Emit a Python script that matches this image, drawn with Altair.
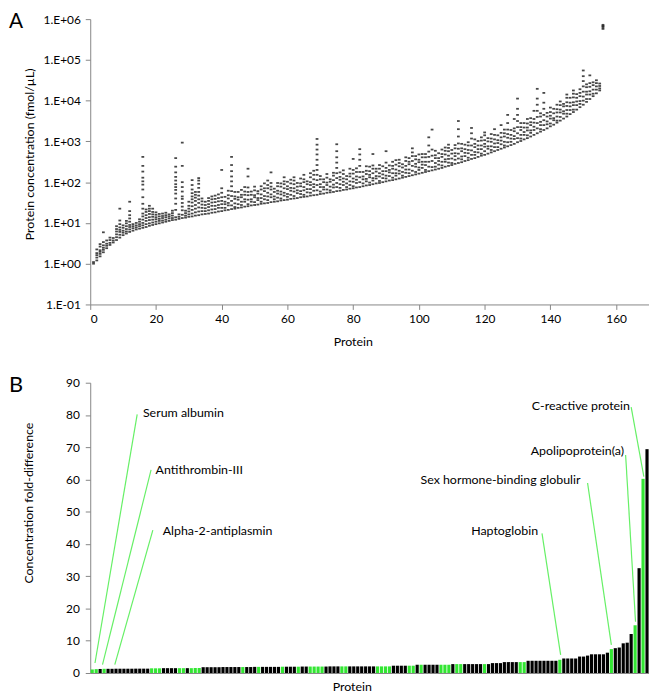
import altair as alt
import pandas as pd

# ---------------- Panel A: per-protein measurements ----------------
# lowest measured value of each protein (log10 fmol/uL), proteins 1..156
band_low = [
    0.00, 0.08, 0.18, 0.28, 0.38, 0.46, 0.52, 0.58, 0.64, 0.70,
    0.74, 0.78, 0.81, 0.84, 0.86, 0.88, 0.90, 0.93, 0.95, 0.97,
    0.99, 1.01, 1.03, 1.05, 1.07, 1.08, 1.10, 1.12, 1.13, 1.15,
    1.16, 1.18, 1.19, 1.21, 1.22, 1.23, 1.25, 1.26, 1.28, 1.29,
    1.31, 1.32, 1.34, 1.35, 1.37, 1.38, 1.40, 1.41, 1.43, 1.44,
    1.45, 1.47, 1.48, 1.49, 1.51, 1.52, 1.53, 1.55, 1.56, 1.57,
    1.59, 1.60, 1.61, 1.63, 1.64, 1.65, 1.67, 1.68, 1.69, 1.71,
    1.72, 1.74, 1.75, 1.76, 1.78, 1.79, 1.81, 1.82, 1.84, 1.85,
    1.87, 1.88, 1.90, 1.92, 1.93, 1.95, 1.97, 1.98, 2.00, 2.02,
    2.04, 2.05, 2.07, 2.09, 2.11, 2.13, 2.15, 2.17, 2.19, 2.21,
    2.23, 2.25, 2.27, 2.29, 2.31, 2.33, 2.35, 2.38, 2.40, 2.42,
    2.45, 2.47, 2.49, 2.52, 2.54, 2.57, 2.59, 2.62, 2.65, 2.67,
    2.70, 2.73, 2.76, 2.79, 2.82, 2.85, 2.88, 2.91, 2.94, 2.98,
    3.01, 3.05, 3.08, 3.12, 3.16, 3.20, 3.24, 3.28, 3.32, 3.37,
    3.41, 3.46, 3.51, 3.56, 3.61, 3.67, 3.72, 3.78, 3.84, 3.90,
    3.97, 4.04, 4.11, 4.18, 4.25, 5.76,
]
# the other measurements of each protein, as log10 distance above its lowest value
band_offsets = [
    [0, .04], [0, .07, .13, .18, .27], [0, .06, .11, .15, .24, .30], [0, .06, .11, .17, .25, .49], [0, .06, .11, .19],
    [0, .05, .12, .18], [0, .05, .11], [0, .07, .14, .21, .27, .34], [0, .07, .14, .19, .25, .33, .42, .71],
    [0, .06, .11, .18, .24], [0, .05, .11, .18, .25, .31], [0, .06, .12, .17, .25, .33, .41, .51, .74],
    [0, .06, .11, .16], [0, .05, .10, .16], [0, .06, .11, .17, .23],
    [0, .06, .12, .20, .28, .35, .47, .59, .75, .94, 1.06, 1.14, 1.23, 1.38, 1.52, 1.74],
    [0, .07, .15, .22, .29, .37, .43], [0, .06, .14, .21, .29, .36, .42, .49], [0, .06, .13, .20, .26, .32, .40],
    [0, .06, .12, .17, .23, .29], [0, .06, .11, .17, .23], [0, .05, .11, .16, .22], [0, .05, .11, .16, .22],
    [0, .06, .11, .16], [0, .05, .11, .17, .23],
    [0, .06, .24, .39, .52, .64, .73, .80, .87, .96, 1.05, 1.16, 1.30, 1.51], [0, .05, .11],
    [0, .08, .19, .28, .37, .47, .53, .65, .76, .88, 1.28, 1.85], [0, .05, .11, .17], [0, .06, .13, .20, .27, .37],
    [0, .07, .16, .25, .34, .42, .49, .57, .66, .77, .89], [0, .08, .17, .26, .36, .44, .51, .58],
    [0, .09, .19, .30, .39, .48, .57, .67, .77, .85, .91], [0, .08, .16, .24, .32, .39], [0, .07, .14, .22, .30],
    [0, .08, .16, .23, .31, .38], [0, .08, .17, .25, .33, .40], [0, .08, .16, .25, .33, .41], [0, .09, .16, .25, .33, .42],
    [0, .08, .17, .25, .34, .45, .56, 1.01],
    [0, .06, .15, .21, .33], [0, .11, .17, .28, .36, .47], [0, .09, .20, .32, .44, .56, .68, .80, .93, 1.08, 1.28],
    [0, .04, .13, .24, .30, .41], [0, .09, .20, .26, .39], [0, .06, .14, .25, .31, .43], [0, .12, .18, .29, .37, .48],
    [0, .05, .16, .27, .35, .46, .73, .92], [0, .09, .15, .26, .34], [0, .07, .19, .24, .36, .45],
    [0, .11, .16, .27, .33], [0, .05, .14, .23, .35, .43], [0, .10, .18, .30, .37, .49], [0, .07, .16, .25, .36, .44, .55],
    [0, .12, .19, .31, .38, .47, .73], [0, .06, .13, .24, .32], [0, .09, .19, .26, .37, .45], [0, .05, .15, .22, .34, .42],
    [0, .11, .18, .29, .39, .46, .56], [0, .07, .14, .26, .33, .44],
    [0, .10, .20, .27, .38, .47], [0, .06, .17, .25, .35, .44, .52], [0, .12, .19, .28, .37], [0, .08, .15, .27, .34, .46],
    [0, .05, .16, .24, .36, .43, .54], [0, .10, .18, .30, .37], [0, .07, .16, .26, .33, .45, .55],
    [0, .11, .20, .27, .39, .50, .60], [0, .11, .24, .36, .49, .61, .73, .86, .99, 1.11, 1.23, 1.37],
    [0, .06, .17, .24, .36, .44],
    [0, .10, .16, .28, .35], [0, .08, .19, .25, .37, .46], [0, .05, .14, .26, .32], [0, .11, .18, .29, .40, .47],
    [0, .10, .20, .32, .44, .57, .70, .83, .98, 1.15], [0, .07, .16, .27, .34, .45], [0, .12, .20, .28, .39, .48],
    [0, .06, .15, .25, .33], [0, .09, .18, .30, .37, .49], [0, .05, .16, .24, .36, .45, .72],
    [0, .11, .19, .27, .38, .47], [0, .12, .24, .37, .52, .67, .80, .93], [0, .07, .17, .24, .35],
    [0, .10, .16, .28, .36, .47], [0, .06, .19, .25, .34, .45], [0, .09, .15, .27, .38, .46, .74],
    [0, .12, .18, .29, .36], [0, .05, .16, .24, .35, .44], [0, .10, .19, .27, .39], [0, .07, .14, .25, .33, .46, .74],
    [0, .11, .20, .26, .37], [0, .06, .17, .28, .35, .45], [0, .09, .15, .24, .36, .47], [0, .12, .19, .30, .38, .46],
    [0, .05, .14, .25, .33], [0, .10, .18, .27, .39, .48], [0, .07, .16, .29, .35, .44], [0, .11, .23, .35, .47, .56, .66],
    [0, .06, .19, .26, .37, .45], [0, .09, .15, .28, .34, .47],
    [0, .12, .20, .27, .38, .46], [0, .05, .17, .25, .36, .44], [0, .11, .23, .35, .48, .63, .83],
    [0, .08, .23, .36, .51, 1.00], [0, .07, .16, .28, .35, .46], [0, .10, .19, .26, .38], [0, .06, .15, .27, .34, .45],
    [0, .12, .18, .30, .39, .47], [0, .08, .17, .25, .36, .44, .52], [0, .05, .16, .28, .37],
    [0, .10, .19, .26, .38, .46], [0, .11, .23, .35, .48, .65, .83, 1.03], [0, .07, .14, .27, .34, .45],
    [0, .12, .20, .29, .40], [0, .06, .17, .25, .36, .44], [0, .10, .21, .33, .50, .63, .76],
    [0, .08, .15, .27, .35, .46], [0, .11, .19, .28, .39], [0, .05, .16, .25, .37, .45], [0, .09, .20, .27, .36, .48, .55],
    [0, .12, .18, .30, .38], [0, .06, .15, .26, .34, .45], [0, .10, .19, .29, .40, .54], [0, .07, .17, .24, .36],
    [0, .11, .20, .28, .39, .58], [0, .05, .14, .27, .35, .44], [0, .10, .21, .30, .41, .57, .77],
    [0, .08, .16, .25, .37], [0, .12, .19, .31, .38, .61], [0, .10, .22, .37, .52, .67, .82, 1.07],
    [0, .06, .15, .27, .34, .44], [0, .11, .18, .29, .40], [0, .07, .19, .26, .36, .47], [0, .09, .15, .28, .35, .45],
    [0, .12, .20, .30, .39, .59], [0, .12, .25, .40, .55, .70, .85, 1.09], [0, .06, .16, .24, .37, .45],
    [0, .12, .24, .37, .52, .67, .91], [0, .10, .17, .29, .38], [0, .07, .19, .26, .35, .46],
    [0, .11, .16, .28, .39], [0, .05, .15, .25, .33, .44], [0, .09, .20, .27, .38, .47], [0, .12, .18, .30, .36],
    [0, .07, .16, .26, .35, .46, .54], [0, .10, .19, .28, .40], [0, .06, .17, .24, .36, .45, .53],
    [0, .11, .20, .29, .38], [0, .08, .15, .27, .35, .44], [0, .10, .20, .32, .45, .58, .70, .84],
    [0, .07, .18, .25, .36, .43], [0, .11, .19, .30, .39, .58], [0, .06, .16, .27, .34], [0, .09, .17, .25, .32],
    [0, .05, .11, .17], [0, .04, .07, .10],
]
a_y_ticks = [0.1, 1, 10, 100, 1000, 10000, 100000, 1000000]
a_x_ticks = [0, 20, 40, 60, 80, 100, 120, 140, 160]

# ---------------- Panel B: fold-difference bars ----------------
fold_values = [
    1.10, 1.20, 1.25, 1.30, 1.30, 1.30, 1.33, 1.33, 1.33, 1.33, 1.33, 1.35, 1.35, 1.35, 1.35,
    1.45, 1.45, 1.45, 1.50, 1.50, 1.50, 1.50, 1.50, 1.50, 1.50, 1.50, 1.55, 1.55,
    1.80, 1.80, 1.80, 1.80, 1.80, 1.85, 1.85, 1.85, 1.85, 1.85, 1.85, 1.85, 1.85, 1.90, 1.90, 1.90, 1.90, 1.90, 1.90, 1.90,
    1.95, 1.95, 1.95, 1.95, 1.95, 2.00, 2.00, 2.00, 2.00, 2.00, 2.00, 2.00, 2.05, 2.05, 2.05, 2.05, 2.05, 2.05, 2.05,
    2.05, 2.05, 2.05, 2.05, 2.05, 2.05, 2.05, 2.05, 2.05,
    2.26, 2.26, 2.26, 2.26, 2.26, 2.26,
    2.56, 2.56, 2.56, 2.56, 2.56, 2.56, 2.56, 2.56, 2.56,
    2.76, 2.76, 2.76, 2.76, 2.76, 2.76, 2.76, 2.76, 2.76, 2.76,
    3.07, 3.07, 3.07,
    3.38, 3.38, 3.38, 3.38, 3.38, 3.38,
    3.79, 3.79, 3.79, 3.79, 3.79, 3.79, 3.79, 3.79,
    4.10, 4.50, 4.50, 4.50, 4.50, 5.10, 5.10, 5.40, 5.80, 5.80, 5.80, 5.80, 6.30,
    7.40, 7.70, 7.90, 9.20, 9.40, 12.1, 14.8, 32.5, 60.2, 69.4,
]
# runs of bar colour: g = green, k = black
fold_color_runs = [
    ("g", 2), ("k", 1), ("g", 1), ("k", 11), ("g", 3), ("k", 4), ("g", 2), ("k", 1), ("g", 3), ("k", 10),
    ("g", 1), ("k", 3), ("g", 1), ("k", 5), ("g", 1), ("k", 3), ("g", 1), ("k", 2), ("g", 4), ("k", 4),
    ("g", 2), ("k", 7), ("g", 4), ("k", 4), ("g", 2), ("k", 1), ("g", 1), ("k", 4), ("g", 3), ("k", 1),
    ("g", 2), ("k", 5), ("g", 1), ("k", 8), ("g", 2), ("k", 8), ("g", 1), ("k", 12), ("g", 1), ("k", 5),
    ("g", 1), ("k", 1), ("g", 1), ("k", 1),
]
b_y_ticks = [0, 10, 20, 30, 40, 50, 60, 70, 80, 90]

ann_labels = ["Serum albumin", "Antithrombin-III", "Alpha-2-antiplasmin", "Haptoglobin",
              "Sex hormone-binding globulir", "Apolipoprotein(a)", "C-reactive protein"]
ann_bar_x = [1.2, 3.1, 6.2, 118.7, 131.5, 137.6, 139.7]
ann_bar_y = [3.1, 2.6, 2.6, 5.6, 8.7, 15.9, 60.9]
ann_tip_x = [11.85, 15.35, 15.8, 114.0, 125.5, 135.1, 136.5]
ann_tip_y = [80.2, 63.0, 44.3, 43.3, 58.9, 67.6, 82.4]
ann_text_x = [13.3, 16.5, 18.3, 113.0, 123.7, 134.7, 136.2]
ann_text_y = [80.5, 63.0, 44.0, 43.9, 59.9, 68.8, 82.9]
ann_side = ["left", "left", "left", "right", "right", "right", "right"]

# ---------------- build tables ----------------
rows = []
for i, (low, offs) in enumerate(zip(band_low, band_offsets)):
    for o in offs:
        rows.append({"protein": i + 1, "conc": 10 ** (low + o)})
dash_df = pd.DataFrame(rows)

colors = []
for c, n in fold_color_runs:
    colors += [c] * n
nb = len(fold_values)
bars_df = pd.DataFrame({"i": range(nb), "v": fold_values, "c": colors[:nb]})
bars_df["x0"] = bars_df["i"] + 0.1
bars_df["x1"] = bars_df["i"] + 0.9

ann_df = pd.DataFrame({"label": ann_labels, "bx": ann_bar_x, "by": ann_bar_y, "tx": ann_tip_x,
                       "ty": ann_tip_y, "lx": ann_text_x, "ly": ann_text_y, "side": ann_side})

FONT = "Lato"
AXC = "#868686"
GREEN = "#33e633"
LGREEN = "#66f066"
W = 564

# ---------------- Panel A ----------------
a_pts = alt.Chart(dash_df).mark_tick(orient="horizontal", size=2.8, thickness=1.8, color="#000", opacity=0.72).encode(
    x=alt.X("protein:Q", scale=alt.Scale(domain=[0, 170], nice=False, zero=False),
            axis=alt.Axis(values=a_x_ticks, title="Protein", titleX=265, titleY=37, titleBaseline="middle",
                          labelPadding=4, tickSize=5)),
    y=alt.Y("conc:Q", scale=alt.Scale(type="log", domain=[0.1, 1000000], nice=False),
            axis=alt.Axis(values=a_y_ticks, title="Protein concentration (fmol/µL)",
                          labelExpr="'1.E' + (datum.value < 1 ? '-' : '+') + format(abs(round(log(datum.value)/LN10)), '02d')",
                          titleX=-61, titleY=136, titleBaseline="middle", labelPadding=5, tickSize=5)),
)
a_letter = alt.Chart(pd.DataFrame({"t": ["A"]})).mark_text(fontSize=21, font=FONT, align="center", baseline="middle").encode(
    x=alt.value(-75), y=alt.value(3), text="t:N")
panelA = alt.layer(a_pts, a_letter).properties(width=W, height=288)

# ---------------- Panel B ----------------
b_xscale = alt.Scale(domain=[0, nb], nice=False, zero=False)
b_yscale = alt.Scale(domain=[0, 90], nice=False)
b_xaxis = alt.Axis(ticks=False, labels=False, title="Protein", titleX=264, titleY=14, titleBaseline="middle")
b_yaxis = alt.Axis(values=b_y_ticks, title="Concentration fold-difference", titleX=-62, titleY=121,
                   titleBaseline="middle", labelPadding=6, tickSize=5)


def bxe(f):
    return alt.X(f, type="quantitative", scale=b_xscale, axis=b_xaxis)


def bye(f):
    return alt.Y(f, type="quantitative", scale=b_yscale, axis=b_yaxis)


b_bars = alt.Chart(bars_df).mark_rect().encode(
    x=bxe("x0"), x2="x1", y=bye("v"), y2=alt.datum(0),
    color=alt.Color("c:N", scale=alt.Scale(domain=["g", "k"], range=[GREEN, "#000000"]), legend=None))
b_lines = alt.Chart(ann_df).mark_rule(color=LGREEN, strokeWidth=1.2).encode(
    x=bxe("bx"), y=bye("by"), x2="tx:Q", y2="ty:Q")
b_text_l = alt.Chart(ann_df).transform_filter("datum.side == 'left'").mark_text(
    align="left", baseline="middle", font=FONT, fontSize=12.5, color="#000").encode(
    x=bxe("lx"), y=bye("ly"), text="label:N")
b_text_r = alt.Chart(ann_df).transform_filter("datum.side == 'right'").mark_text(
    align="right", baseline="middle", font=FONT, fontSize=12.5, color="#000").encode(
    x=bxe("lx"), y=bye("ly"), text="label:N")
b_letter = alt.Chart(pd.DataFrame({"t": ["B"]})).mark_text(fontSize=22, font=FONT, align="center", baseline="middle").encode(
    x=alt.value(-75), y=alt.value(2.5), text="t:N")
panelB = alt.layer(b_bars, b_lines, b_text_l, b_text_r, b_letter).properties(width=W, height=293)

chart = alt.vconcat(panelA, panelB, spacing=26).properties(
    padding=0
).configure_view(stroke=None).configure_axis(
    grid=False, domainColor=AXC, tickColor=AXC, labelColor="#000", titleColor="#000",
    labelFont=FONT, titleFont=FONT, labelFontSize=12, titleFontSize=12.5, titleFontWeight="normal"
)

chart.save("out.html", embed_options={"renderer": "svg", "actions": False})
